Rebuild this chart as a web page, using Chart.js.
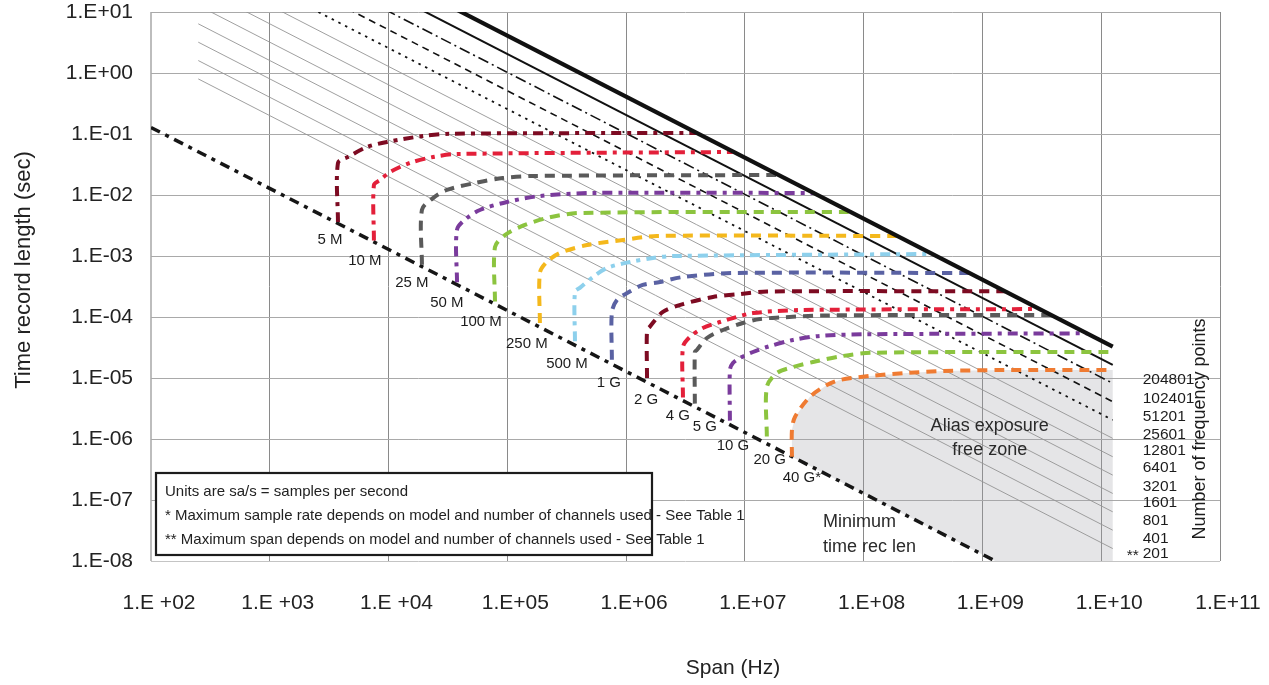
<!DOCTYPE html>
<html>
<head>
<meta charset="utf-8">
<script src="https://cdn.jsdelivr.net/npm/chart.js@4.4.1/dist/chart.umd.min.js"></script>
<style>
  html, body { margin: 0; padding: 0; background: #fff; }
  #wrap { width: 1269px; height: 685px; position: relative; }
</style>
</head>
<body>
<div id="wrap"><canvas id="chart"></canvas></div>
<script>
const FONT = '"Liberation Sans", Arial, Helvetica, sans-serif';

// Axis decades and their printed labels
const spanTicks = [1e2, 1e3, 1e4, 1e5, 1e6, 1e7, 1e8, 1e9, 1e10, 1e11];
const spanTickLabels = ['1.E +02', '1.E +03', '1.E +04', '1.E+05', '1.E+06', '1.E+07', '1.E+08', '1.E+09', '1.E+10', '1.E+11'];
const timeTicks = [1e-8, 1e-7, 1e-6, 1e-5, 1e-4, 1e-3, 1e-2, 1e-1, 1e0, 1e1];
const timeTickLabels = ['1.E-08', '1.E-07', '1.E-06', '1.E-05', '1.E-04', '1.E-03', '1.E-02', '1.E-01', '1.E+00', '1.E+01'];

// Constant frequency-point lines: T = (N - 1) / span
const freqPoints = [201, 401, 801, 1601, 3201, 6401, 12801, 25601, 51201, 102401, 204801];
const maxFreqPoints = 409601;
const lineSpanRange = [250, 1.25e10];

// Minimum time record length
const minRecSpan = [100, 1.28e9];
const minRecTime = [0.128, 1.0e-8];

// Sample-rate curves: [span (Hz), time record (s)]
const curve5M   = [[3750, 0.0036], [3750, 0.0335], [4550, 0.042], [6580, 0.0612], [9700, 0.074], [19500, 0.0927], [32900, 0.101], [3.9e6, 0.104]];
const curve10M  = [[7530, 0.0018], [7530, 0.0146], [8470, 0.0176], [10300, 0.0238], [15100, 0.0335], [23700, 0.042], [37700, 0.047], [7.9e6, 0.0507]];
const curve25M  = [[19100, 0.00072], [19100, 0.0057], [23700, 0.0089], [31000, 0.0121], [53400, 0.0157], [91900, 0.019], [164000, 0.0205], [1.9e7, 0.0213]];
const curve50M  = [[37700, 0.00037], [37700, 0.0027], [45700, 0.0042], [58800, 0.00568], [99300, 0.00768], [188000, 0.00964], [526000, 0.0108], [3.85e7, 0.0108]];
const curve100M = [[78700, 0.00018], [78700, 0.0014], [95500, 0.0022], [128000, 0.003], [215000, 0.0042], [408000, 0.00507], [7.5e7, 0.00526]];
const curve250M = [[188000, 8e-5], [188000, 0.00053], [215000, 0.0008], [277000, 0.00112], [468000, 0.00151], [940000, 0.00183], [1.82e6, 0.00213], [1.9e8, 0.00213]];
const curve500M = [[371000, 4e-5], [371000, 0.00026], [408000, 0.0003], [526000, 0.000453], [689000, 0.000636], [1.08e6, 0.000798], [1.68e6, 0.000927], [2.48e6, 0.001], [3.8e8, 0.00108]];
const curve1G   = [[759000, 2e-5], [759000, 0.00012], [837000, 0.00019], [1.02e6, 0.000247], [1.38e6, 0.000335], [1.93e6, 0.000375], [3.01e6, 0.000453], [7.9e6, 0.000526], [7.8e8, 0.000526]];
const curve2G   = [[1.5e6, 1e-5], [1.5e6, 6.1e-5], [1.58e6, 6.9e-5], [2.04e6, 0.000121], [3.01e6, 0.000163], [5.38e6, 0.000213], [9.08e6, 0.000238], [1.53e7, 0.000262], [1.55e9, 0.000264]];
const curve4G   = [[3.01e6, 4.8e-6], [3.01e6, 3.22e-5], [3.44e6, 4.7e-5], [4.43e6, 6.61e-5], [6.17e6, 8.28e-5], [7.93e6, 9.6e-5], [1.17e7, 0.000116], [2.9e7, 0.00013], [2.8e9, 0.000135]];
const curve5G   = [[3.79e6, 3.8e-6], [3.79e6, 2.67e-5], [3.94e6, 2.88e-5], [4.79e6, 4.53e-5], [6.53e6, 6.12e-5], [9.62e6, 7.98e-5], [1.34e7, 9.27e-5], [1.97e7, 9.8e-5], [4.5e7, 0.000106], [3.9e9, 0.000108]];
const curve10G  = [[7.48e6, 2e-6], [7.48e6, 1.35e-5], [7.93e6, 1.76e-5], [9.08e6, 2.13e-5], [1.17e7, 2.67e-5], [1.53e7, 3.22e-5], [2.54e7, 4.2e-5], [4.28e7, 4.89e-5], [1e8, 5.2e-5], [7.6e9, 5.4e-5]];
const curve20G  = [[1.53e7, 1.1e-6], [1.53e7, 7.1e-6], [1.86e7, 1.21e-5], [2.54e7, 1.51e-5], [3.74e7, 1.83e-5], [6.68e7, 2.3e-5], [1.2e8, 2.6e-5], [1.25e10, 2.67e-5]];
const curve40G  = [[2.49e7, 5.1e-7], [2.49e7, 1.41e-6], [2.64e7, 2.3e-6], [3.52e7, 4.89e-6], [4.9e7, 7.67e-6], [6.31e7, 9.27e-6], [1.13e8, 1.08e-5], [2.31e8, 1.21e-5], [4.64e8, 1.3e-5], [1.5e9, 1.35e-5], [1.25e10, 1.35e-5]];

const rateCurves = [curve5M, curve10M, curve25M, curve50M, curve100M, curve250M, curve500M, curve1G, curve2G, curve4G, curve5G, curve10G, curve20G, curve40G];
const rateNames  = ['5 M', '10 M', '25 M', '50 M', '100 M', '250 M', '500 M', '1 G', '2 G', '4 G', '5 G', '10 G', '20 G', '40 G*'];

// Where each sample-rate name sits, in axis units
const rateLabelSpan = [3210, 6320, 15700, 31000, 60000, 146000, 318000, 716000, 1.47e6, 2.73e6, 4.6e6, 7.93e6, 1.62e7, 3.02e7];
const rateLabelTime = [0.00183, 0.000828, 0.000361, 0.00017, 8.28e-5, 3.61e-5, 1.7e-5, 8.28e-6, 4.36e-6, 2.38e-6, 1.57e-6, 7.67e-7, 4.53e-7, 2.3e-7];

// Frequency-point labels down the right side (largest first)
const pointLabels = ['204801', '102401', '51201', '25601', '12801', '6401', '3201', '1601', '801', '401', '201'];
const pointLabelTime = [9.27e-6, 4.53e-6, 2.3e-6, 1.16e-6, 6.36e-7, 3.35e-7, 1.63e-7, 8.93e-8, 4.53e-8, 2.3e-8, 1.3e-8];

const legendLines = [
  'Units are sa/s = samples per second',
  '* Maximum sample rate depends on model and number of channels used - See Table 1',
  '** Maximum span depends on model and number of channels used - See Table 1'
];

// ---- styling ----
const rateColors = ['#7d0b22', '#e3203a', '#5a5a5a', '#7a3b9c', '#8cc43f', '#f4b81c', '#8dd0ec', '#5a62a3',
                    '#7d0b22', '#e3203a', '#5a5a5a', '#7a3b9c', '#8cc43f', '#ef7b32'];
const rateDash = [[10, 6, 4, 6], [10, 6, 4, 6], [10, 7], [10, 6, 4, 6], [10, 7], [10, 7], [10, 6, 4, 6], [10, 7],
                  [10, 7], [10, 6, 4, 6], [10, 7], [10, 6, 4, 6], [10, 7], [10, 7]];

function pts(arr) { return arr.map(p => ({ x: p[0], y: p[1] })); }

const datasets = [];

// Constant-N lines
function nLineStyle(n) {
  if (n === maxFreqPoints) return { borderColor: '#111', borderWidth: 4.2, borderDash: [], order: 0 };
  if (n === 204801) return { borderColor: '#111', borderWidth: 2, borderDash: [], order: 3 };
  if (n === 102401) return { borderColor: '#111', borderWidth: 1.6, borderDash: [11, 4, 2, 4], order: 3 };
  if (n === 51201)  return { borderColor: '#111', borderWidth: 1.6, borderDash: [7, 5], order: 3 };
  if (n === 25601)  return { borderColor: '#111', borderWidth: 1.8, borderDash: [2.5, 5], order: 3 };
  return { borderColor: '#949494', borderWidth: 0.9, borderDash: [], order: 4 };
}
[...freqPoints, maxFreqPoints].forEach(n => {
  datasets.push(Object.assign({
    data: lineSpanRange.map(s => ({ x: s, y: (n - 1) / s })),
    showLine: true, pointRadius: 0, fill: false, tension: 0
  }, nLineStyle(n)));
});

// Minimum time record length
datasets.push({
  data: minRecSpan.map((s, i) => ({ x: s, y: minRecTime[i] })),
  showLine: true, pointRadius: 0, fill: false,
  borderColor: '#161616', borderWidth: 3.5, borderDash: [10, 6, 4, 6], order: 2
});

// Sample-rate curves
rateCurves.forEach((c, i) => {
  datasets.push({
    data: pts(c),
    showLine: true, pointRadius: 0, fill: false, tension: 0.3,
    borderColor: rateColors[i], borderWidth: 4, borderDash: rateDash[i], order: 1
  });
});

// Alias exposure free zone: under the top-rate curve, bounded by the minimum line
const zone = pts(curve40G).concat([
  { x: lineSpanRange[1], y: timeTicks[0] },
  { x: minRecSpan[1], y: minRecTime[1] },
  { x: curve40G[0][0], y: curve40G[0][1] }
]);
datasets.push({
  data: zone, showLine: true, pointRadius: 0, tension: 0,
  fill: 'shape', backgroundColor: 'rgba(160,163,170,0.28)',
  borderWidth: 0, borderColor: 'rgba(0,0,0,0)', order: 10
});

const chartText = {
  id: 'chartText',
  beforeDatasetsDraw(chart) {
    const { ctx, chartArea: a } = chart;
    ctx.save();
    const bx = a.left + 5, by = a.bottom - 88, bw = 496, bh = 82;
    ctx.fillStyle = '#fff';
    ctx.fillRect(bx, by, bw, bh);
    ctx.lineWidth = 2.2;
    ctx.strokeStyle = '#1c1c1c';
    ctx.strokeRect(bx, by, bw, bh);
    ctx.fillStyle = '#222';
    ctx.font = '15px ' + FONT;
    ctx.textAlign = 'left';
    ctx.textBaseline = 'middle';
    legendLines.forEach((t, i) => ctx.fillText(t, bx + 9, by + 19 + i * 24));
    ctx.restore();
  },
  afterDatasetsDraw(chart) {
    const { ctx, chartArea: a, scales: { x, y } } = chart;
    ctx.save();
    ctx.fillStyle = '#1c1c1c';
    ctx.textBaseline = 'middle';

    // sample-rate names along the minimum line
    ctx.font = '15px ' + FONT;
    ctx.textAlign = 'center';
    rateNames.forEach((t, i) => {
      ctx.fillText(t, x.getPixelForValue(rateLabelSpan[i]), y.getPixelForValue(rateLabelTime[i]));
    });

    // zone captions
    ctx.font = '18px ' + FONT;
    ctx.fillStyle = '#2a2a2a';
    ctx.fillText('Alias exposure', x.getPixelForValue(1.15e9), y.getPixelForValue(1.63e-6));
    ctx.fillText('free zone', x.getPixelForValue(1.15e9), y.getPixelForValue(6.6e-7));
    ctx.textAlign = 'left';
    ctx.fillText('Minimum', x.getPixelForValue(4.54e7), y.getPixelForValue(4.35e-8));
    ctx.fillText('time rec len', x.getPixelForValue(4.54e7), y.getPixelForValue(1.7e-8));

    // frequency-point labels
    ctx.fillStyle = '#1c1c1c';
    ctx.font = '15.5px ' + FONT;
    const lx = x.getPixelForValue(lineSpanRange[1]) + 30;
    pointLabels.forEach((t, i) => {
      ctx.textAlign = 'left';
      ctx.fillText(t, lx, y.getPixelForValue(pointLabelTime[i]));
      if (t === '201') {
        ctx.textAlign = 'right';
        ctx.fillText('**', lx - 4, y.getPixelForValue(pointLabelTime[i]) + 2);
      }
    });

    // rotated right-hand title
    ctx.save();
    ctx.translate(1200, 429);
    ctx.rotate(-Math.PI / 2);
    ctx.textAlign = 'center';
    ctx.font = '18px ' + FONT;
    ctx.fillText('Number of frequency points', 0, 0);
    ctx.restore();

    // axis titles
    ctx.fillStyle = '#222';
    ctx.save();
    ctx.translate(24, 270);
    ctx.rotate(-Math.PI / 2);
    ctx.textAlign = 'center';
    ctx.font = '22px ' + FONT;
    ctx.fillText('Time record length (sec)', 0, 0);
    ctx.restore();

    ctx.textAlign = 'center';
    ctx.font = '21px ' + FONT;
    ctx.fillText('Span (Hz)', 733, 668);
    ctx.restore();
  }
};

new Chart(document.getElementById('chart'), {
  type: 'scatter',
  data: { datasets },
  options: {
    responsive: true,
    maintainAspectRatio: false,
    animation: false,
    events: [],
    layout: { padding: { top: 12, right: 49, left: 0, bottom: 0 } },
    plugins: { legend: { display: false }, tooltip: { enabled: false }, title: { display: false } },
    scales: {
      x: {
        type: 'logarithmic', min: spanTicks[0], max: spanTicks[spanTicks.length - 1],
        afterBuildTicks: s => { s.ticks = spanTicks.map(v => ({ value: v })); },
        afterFit: s => { s.height = 124; s.paddingLeft = 0; s.paddingRight = 0; s.paddingTop = 0; s.paddingBottom = 0; },
        ticks: {
          autoSkip: false, maxRotation: 0, minRotation: 0, labelOffset: 8, padding: 30,
          color: '#222', font: { family: FONT, size: 21 },
          callback: v => spanTickLabels[spanTicks.indexOf(v)]
        },
        grid: {
          drawTicks: false,
          color: c => (c.tick && c.tick.value === spanTicks[0]) ? '#bdbdbd' : '#8a8a8a',
          lineWidth: c => (c.tick && c.tick.value === spanTicks[0]) ? 2 : 1
        },
        border: { display: false }
      },
      y: {
        type: 'logarithmic', min: timeTicks[0], max: timeTicks[timeTicks.length - 1],
        afterBuildTicks: s => { s.ticks = timeTicks.map(v => ({ value: v })); },
        afterFit: s => { s.width = 151; s.paddingLeft = 0; s.paddingRight = 0; s.paddingTop = 0; s.paddingBottom = 0; },
        ticks: {
          autoSkip: false, padding: 18,
          color: '#222', font: { family: FONT, size: 21 },
          callback: v => timeTickLabels[timeTicks.indexOf(v)]
        },
        grid: {
          drawTicks: false,
          color: c => (c.tick && c.tick.value === timeTicks[0]) ? '#c4c4c4' : '#a9a9a9',
          lineWidth: 1
        },
        border: { display: false }
      }
    }
  },
  plugins: [chartText]
});
</script>
</body>
</html>
